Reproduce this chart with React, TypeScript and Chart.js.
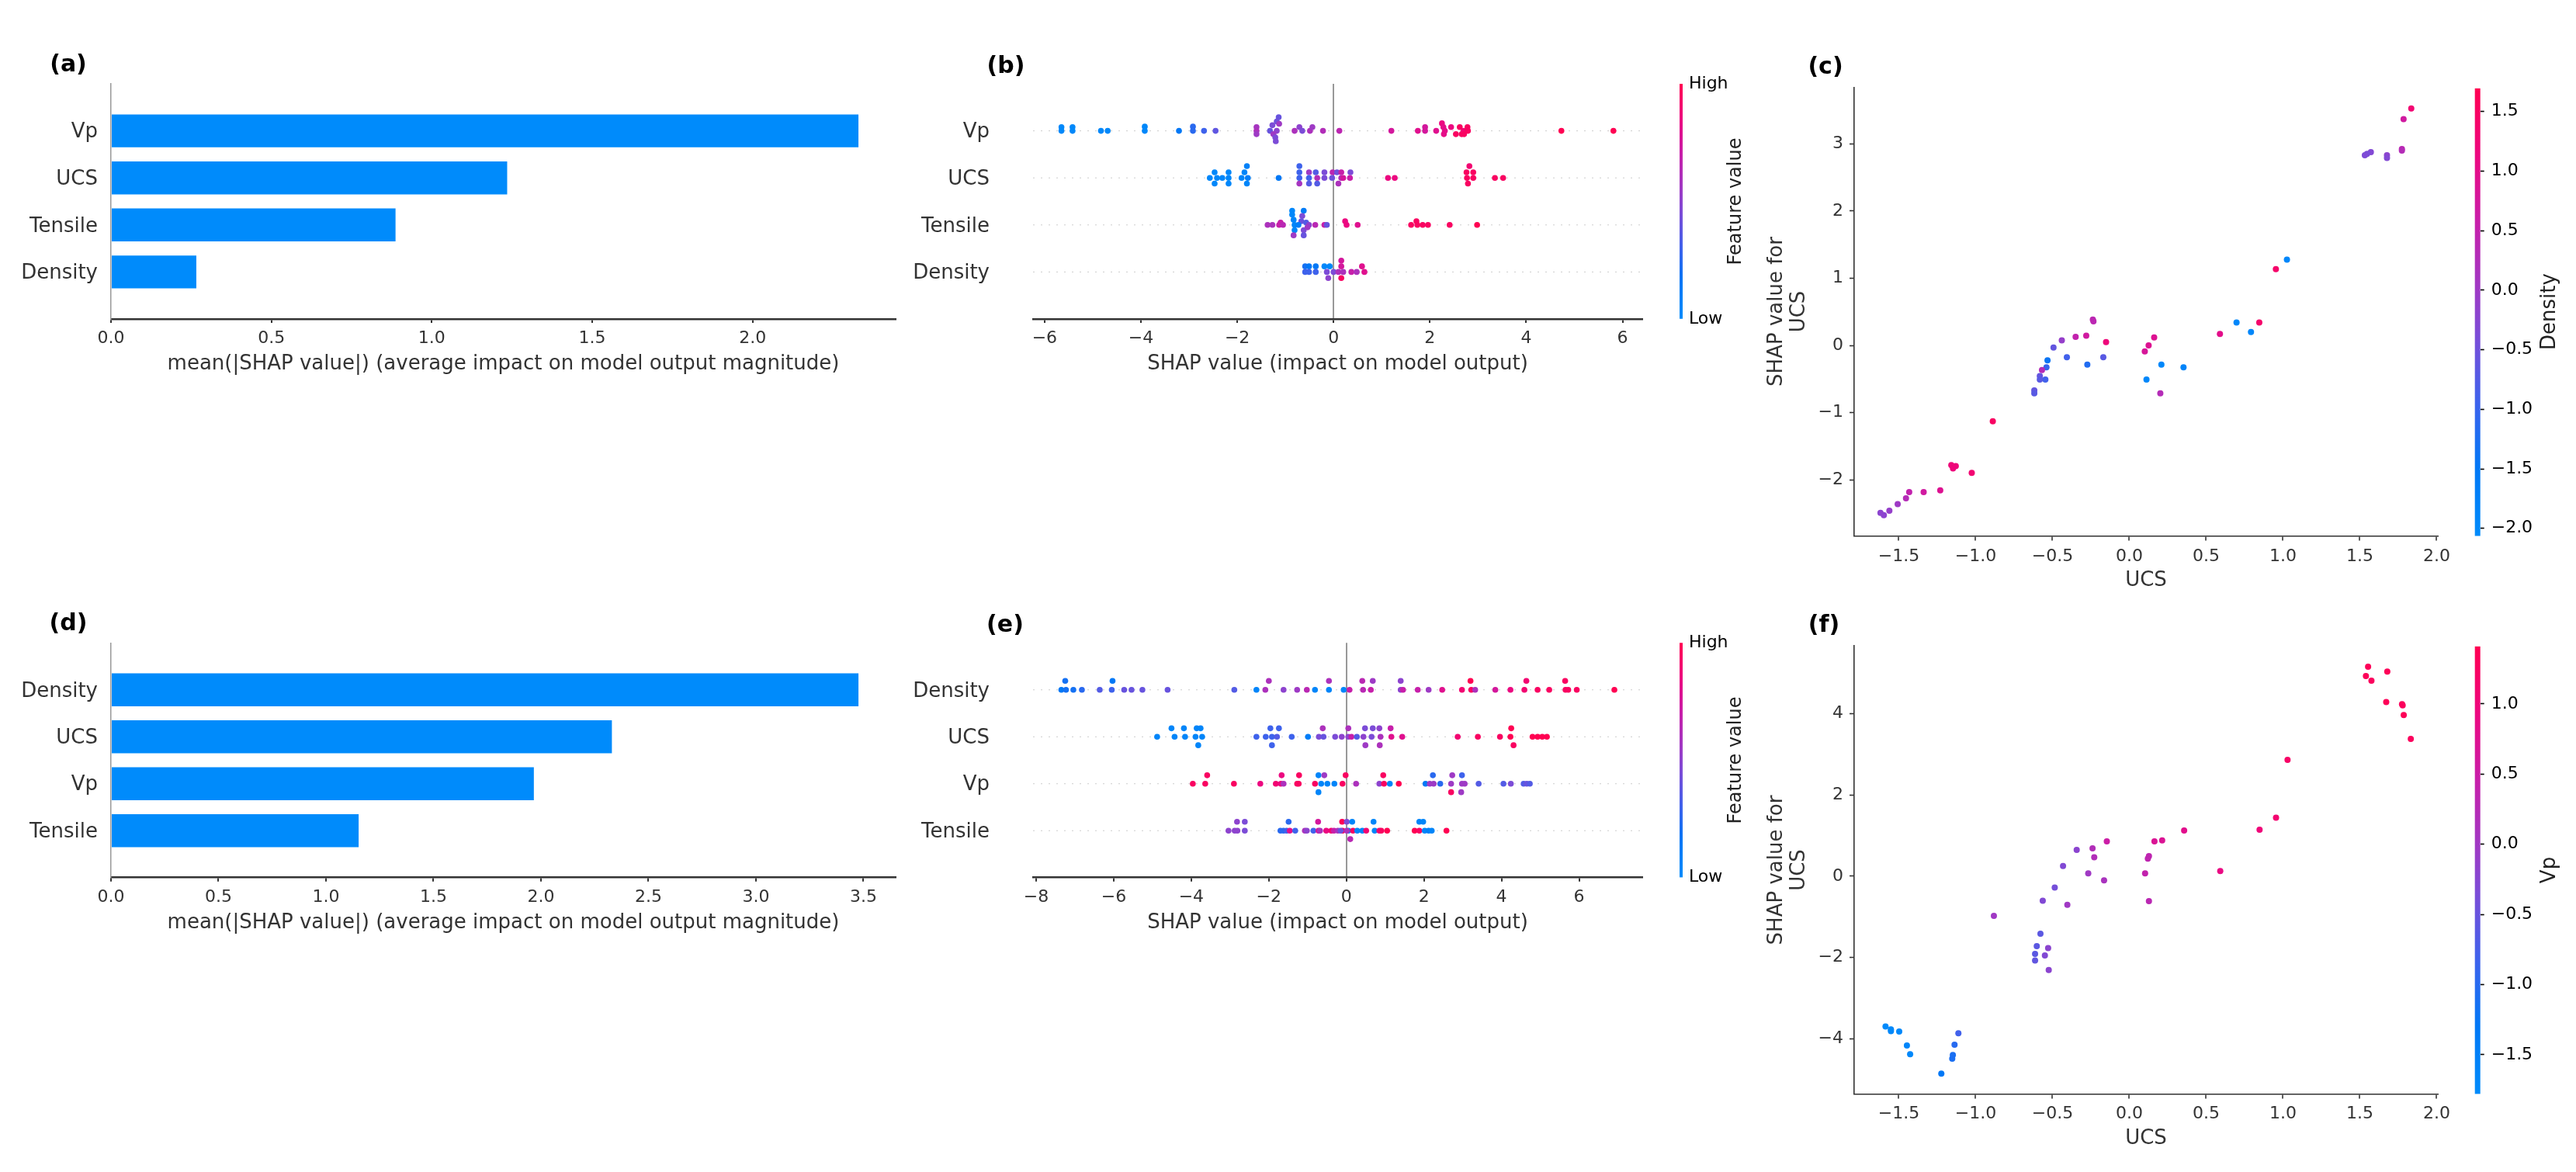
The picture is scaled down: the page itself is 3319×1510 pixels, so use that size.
import React, { useEffect, useRef } from "react";
import { Chart, registerables } from "chart.js";
Chart.register(...registerables);

const FF = "DejaVu Sans";
Chart.defaults.font.family = FF;

// ---------------- DATA ----------------
const FEATURES_A = ["Vp", "UCS", "Tensile", "Density"];
const MEAN_ABS_A = [2.33, 1.235, 0.887, 0.266];
const FEATURES_D = ["Density", "UCS", "Vp", "Tensile"];
const MEAN_ABS_D = [3.477, 2.33, 1.967, 1.152];
const BAR_A_XTICKS = [0, 0.5, 1, 1.5, 2];
const BAR_D_XTICKS = [0, 0.5, 1, 1.5, 2, 2.5, 3, 3.5];
const SWARM_B_XTICKS = [-6, -4, -2, 0, 2, 4, 6];
const SWARM_E_XTICKS = [-8, -6, -4, -2, 0, 2, 4, 6];
const ROW_TICKS = [0, 1, 2, 3];

// beeswarm points: [SHAP value, normalised feature value (0 low .. 1 high), vertical jitter]
const B_VP = [[-5.65,0.02,0.08],[-5.65,0.02,0],[-5.42,0.02,0.08],[-5.42,0.02,0],[-4.83,0.02,0],[-4.69,0.02,0],[-3.92,0.03,0.09],[-3.92,0.03,0],[-3.21,0.15,0],[-2.92,0.25,0.09],[-2.92,0.25,0],[-2.69,0.3,0],[-2.45,0.38,0],[-1.6,0.58,0.08],[-1.6,0.6,0],[-1.6,0.55,-0.07],[-1.14,0.4,0.29],[-1.18,0.42,0.2],[-1.13,0.55,0.15],[-1.27,0.45,0.12],[-1.32,0.4,0],[-1.18,0.5,0],[-1.25,0.55,-0.07],[-1.21,0.45,-0.14],[-1.2,0.45,-0.22],[-0.81,0.6,0],[-0.71,0.5,0.08],[-0.65,0.45,0],[-0.49,0.6,0],[-0.44,0.55,0.08],[-0.22,0.62,0],[0.12,0.66,0],[1.2,0.75,0],[1.75,0.8,0],[1.9,0.75,0.08],[1.9,0.75,0],[2.13,0.8,0],[2.25,0.85,0.16],[2.28,0.82,0.08],[2.31,0.82,0],[2.29,0.82,-0.07],[2.44,0.85,0.08],[2.54,0.95,-0.07],[2.62,0.95,0.08],[2.66,0.95,-0.07],[2.7,0.9,0],[2.78,0.95,0.08],[2.79,0.95,0],[2.71,0.95,-0.07],[4.73,1,0],[5.81,1,0]];
const B_UCS = [[-2.57,0.03,0],[-2.47,0.03,0.12],[-2.47,0.03,-0.12],[-2.42,0.03,0],[-2.31,0.03,0],[-2.18,0.03,0.12],[-2.18,0.03,0],[-2.18,0.03,-0.12],[-1.91,0.05,0],[-1.85,0.05,0.12],[-1.8,0.08,0.25],[-1.8,0.05,-0.12],[-1.78,0.1,0],[-1.14,0.15,0],[-0.71,0.3,0.25],[-0.71,0.3,0.12],[-0.71,0.3,0],[-0.71,0.58,-0.12],[-0.51,0.55,0.12],[-0.51,0.3,0],[-0.51,0.35,-0.12],[-0.37,0.35,0.12],[-0.34,0.62,0],[-0.34,0.35,-0.12],[-0.19,0.45,0.12],[-0.19,0.45,0],[-0.02,0.66,0.12],[-0.03,0.42,0],[0.07,0.42,0.12],[0.1,0.6,-0.12],[0.16,0.7,0.12],[0.16,0.62,0],[0.2,0.75,0],[0.35,0.45,0.12],[0.34,0.7,0],[1.13,0.85,0],[1.27,0.85,0],[2.82,0.9,0.25],[2.76,0.95,0.12],[2.9,0.95,0.12],[2.77,0.95,0],[2.9,0.95,0],[2.79,0.95,-0.12],[3.35,0.95,0],[3.52,0.95,0]];
const B_TENSILE = [[-1.37,0.6,0],[-1.27,0.6,0],[-1.1,0.7,0.05],[-1.13,0.7,0],[-1.05,0.65,0],[-0.86,0.03,0.3],[-0.86,0.03,0.22],[-0.83,0.05,0.11],[-0.81,0.05,0],[-0.81,0.05,-0.11],[-0.83,0.55,-0.22],[-0.62,0.12,0.3],[-0.65,0.45,0.19],[-0.67,0.4,0.08],[-0.57,0.35,0.05],[-0.73,0.1,0],[-0.51,0.5,0],[-0.62,0.45,-0.11],[-0.62,0.4,-0.22],[-0.54,0.55,-0.05],[-0.38,0.65,0],[-0.19,0.7,0],[-0.14,0.4,0],[0.24,0.85,0.08],[0.27,0.85,0],[0.5,0.8,0],[1.61,0.95,0],[1.72,0.95,0.08],[1.74,0.95,0],[1.85,0.95,0],[1.96,0.95,0],[2.41,0.95,0],[2.98,1,0]];
const B_DENSITY = [[-0.59,0.2,0.12],[-0.59,0.3,0],[-0.51,0.15,0.12],[-0.51,0.3,0],[-0.37,0.15,0.12],[-0.37,0.3,0],[-0.19,0.03,0.12],[-0.08,0.03,0.12],[-0.11,0.5,-0.13],[-0.14,0.45,0],[0.0,0.45,0],[0.16,0.75,0.24],[0.16,0.75,0.12],[0.16,0.95,-0.13],[0.1,0.6,0],[0.2,0.6,0],[0.37,0.7,0],[0.48,0.6,0],[0.59,0.8,0.12],[0.64,0.8,0]];

const E_DENSITY = [[-7.35,0.15,0],[-7.25,0.2,0.19],[-7.23,0.2,0],[-7.04,0.2,0],[-6.82,0.25,0],[-6.36,0.35,0],[-6.03,0.15,0.19],[-6.05,0.3,0],[-5.73,0.4,0],[-5.54,0.4,0],[-5.26,0.4,0],[-4.61,0.4,0],[-2.89,0.35,0],[-2.32,0.05,0],[-2.09,0.6,0],[-2.0,0.6,0.19],[-1.62,0.5,0],[-1.27,0.55,0],[-1.02,0.65,0],[-0.81,0.05,0],[-0.45,0.6,0.19],[-0.45,0.05,0],[-0.07,0.05,0],[0.08,0.7,0],[0.41,0.65,0.19],[0.43,0.65,0],[0.63,0.7,0],[0.68,0.55,0.19],[1.4,0.5,0.19],[1.4,0.5,0],[1.46,0.7,0],[1.84,0.7,0],[2.12,0.55,0],[2.47,0.8,0],[2.98,0.9,0],[3.2,1,0.19],[3.22,0.95,0],[3.32,0.6,0],[3.84,0.75,0],[4.23,0.85,0],[4.59,0.9,0],[4.64,0.9,0.19],[4.93,0.95,0],[5.23,0.95,0],[5.64,0.95,0.19],[5.65,0.95,0],[5.72,0.95,0],[5.94,0.95,0],[6.91,1,0]];
const E_UCS = [[-4.88,0.05,0],[-4.51,0.05,0.18],[-4.43,0.05,0],[-4.19,0.05,0.18],[-4.16,0.05,0],[-3.86,0.05,0.18],[-3.76,0.05,0.18],[-3.89,0.05,0],[-3.72,0.05,0],[-3.82,0.05,-0.18],[-2.32,0.3,0],[-2.08,0.3,0],[-1.96,0.3,0.18],[-1.92,0.3,0],[-1.92,0.3,-0.18],[-1.79,0.35,0],[-1.74,0.3,0.18],[-1.41,0.3,0],[-0.99,0.1,0],[-0.71,0.45,0],[-0.61,0.6,0.18],[-0.59,0.4,0],[-0.29,0.45,0],[-0.12,0.5,0],[0.05,0.6,0.18],[0.05,0.5,0],[0.13,0.7,0],[0.27,0.35,0],[0.44,0.5,0],[0.48,0.45,0.18],[0.49,0.55,-0.18],[0.65,0.45,0],[0.68,0.45,0.18],[0.85,0.5,0.18],[0.88,0.6,0],[0.86,0.6,-0.18],[1.14,0.7,0.18],[1.16,0.8,0],[1.44,0.8,0],[2.87,0.9,0],[3.39,0.95,0],[3.96,0.95,0],[4.23,1,0],[4.25,1,0.18],[4.31,0.95,-0.18],[4.8,1,0],[4.93,1,0],[5.05,1,0],[5.17,1,0]];
const E_VP = [[-3.96,0.95,0],[-3.64,0.95,0],[-3.59,0.95,0.18],[-2.9,0.95,0],[-2.22,0.85,0],[-1.82,0.9,0],[-1.67,0.85,0.18],[-1.69,0.85,0],[-1.62,0.6,0],[-1.27,0.95,0],[-1.22,0.95,0.18],[-1.23,0.95,0],[-0.81,0.95,0],[-0.72,0.05,0.18],[-0.57,0.55,0.18],[-0.72,0.05,-0.18],[-0.65,0.05,0],[-0.49,0.05,0],[-0.31,0.05,0],[-0.1,0.95,0],[-0.02,0.95,0.18],[0.25,0.6,0],[0.85,0.5,0],[0.95,0.95,0.18],[0.97,0.95,0],[1.12,0.05,0],[1.35,1,0],[2.04,0.15,0],[2.15,0.55,0],[2.25,0.55,0],[2.23,0.25,0.18],[2.42,0.25,0],[2.7,0.95,-0.18],[2.73,0.55,0.18],[2.7,0.55,0],[2.96,0.55,-0.18],[2.98,0.3,0.18],[2.98,0.55,0],[3.05,0.55,0],[3.41,0.35,0],[4.05,0.35,0],[4.24,0.45,0],[4.57,0.35,0],[4.65,0.4,0],[4.73,0.35,0]];
const E_TENSILE = [[-3.04,0.5,0],[-2.82,0.5,0.19],[-2.62,0.45,0.19],[-2.88,0.5,0],[-2.81,0.5,0],[-2.62,0.45,0],[-1.7,0.25,0],[-1.62,0.25,0],[-1.54,0.3,0],[-1.49,0.25,0.19],[-1.46,0.8,0],[-1.32,0.3,0],[-1.07,0.6,0],[-1.02,0.5,0],[-0.85,0.3,0],[-0.73,0.75,0.19],[-0.72,0.75,0],[-0.68,0.6,0],[-0.52,0.85,0],[-0.39,0.9,0],[-0.32,0.7,0],[-0.22,0.6,0],[-0.11,1,0.19],[-0.1,1,0],[0.01,0.45,0.19],[0.05,0.05,0],[0.1,0.65,-0.18],[0.15,0.05,0.19],[-0.15,0.4,0],[0.01,0.6,0],[0.17,0.95,0],[0.28,0.05,0],[0.41,0.05,0],[0.51,0.9,0],[0.7,0.05,0.19],[0.73,0.05,0],[0.85,0.9,0],[0.9,0.95,0],[1.05,1,0],[1.76,1,0],[1.88,0.95,0],[1.88,0.05,0.19],[1.98,0.05,0.19],[2.02,0.05,0],[2.12,0.1,0],[2.2,0.05,0],[2.58,1,0]];

// dependence plots: [UCS value, SHAP value for UCS, colouring feature value]
const DEP_C = [[1.835,3.526,1.3],[1.785,3.366,0.7],[1.774,2.923,0.4],[1.774,2.9,0.3],[1.677,2.83,-0.2],[1.677,2.789,-0.3],[1.572,2.876,-0.3],[1.547,2.85,-0.4],[1.533,2.83,-0.35],[1.026,1.278,-1.95],[0.954,1.134,1.4],[0.846,0.34,1.4],[0.792,0.201,-1.95],[0.698,0.34,-1.95],[0.59,0.17,1.0],[0.353,-0.325,-1.85],[0.209,-0.284,-1.95],[0.202,-0.712,0.3],[0.112,-0.506,-1.95],[0.162,0.118,0.9],[0.126,0.0,0.9],[0.101,-0.088,0.8],[-0.151,0.051,1.2],[-0.169,-0.176,-0.7],[-0.237,0.386,0.4],[-0.233,0.36,0.4],[-0.273,-0.284,-1.2],[-0.28,0.144,0.7],[-0.349,0.129,0.5],[-0.406,-0.176,-0.9],[-0.439,0.077,-0.1],[-0.493,-0.031,-0.6],[-0.532,-0.222,-1.4],[-0.539,-0.325,-1.0],[-0.546,-0.506,-0.9],[-0.568,-0.366,0.3],[-0.582,-0.454,-0.6],[-0.582,-0.506,-0.7],[-0.618,-0.67,-0.6],[-0.618,-0.712,-0.7],[-0.888,-1.129,1.5],[-1.025,-1.897,1.3],[-1.129,-1.794,1.2],[-1.158,-1.779,1.2],[-1.147,-1.83,1.2],[-1.23,-2.155,0.9],[-1.338,-2.181,0.7],[-1.432,-2.181,0.5],[-1.453,-2.274,0.3],[-1.507,-2.361,0.0],[-1.561,-2.459,-0.1],[-1.597,-2.526,-0.2],[-1.619,-2.49,-0.2]];
const DEP_F = [[1.554,5.158,1.35],[1.54,4.932,1.35],[1.576,4.815,1.3],[1.679,5.041,1.35],[1.672,4.292,1.35],[1.775,4.238,1.3],[1.779,4.211,1.3],[1.786,3.968,1.35],[1.832,3.381,1.3],[1.03,2.867,1.2],[0.955,1.443,1.1],[0.848,1.145,1.0],[0.592,0.126,0.9],[0.357,1.127,0.8],[0.214,0.884,0.7],[0.164,0.857,0.7],[0.128,0.496,0.35],[0.121,0.433,0.35],[0.103,0.072,0.4],[0.128,-0.613,0.3],[-0.146,0.857,0.5],[-0.164,-0.099,0.1],[-0.228,0.469,0.2],[-0.239,0.685,0.2],[-0.267,0.072,0.0],[-0.342,0.649,-0.2],[-0.403,-0.703,0.0],[-0.431,0.252,-0.3],[-0.485,-0.28,-0.4],[-0.563,-0.604,-0.3],[-0.578,-1.416,-0.6],[-0.602,-1.722,-0.6],[-0.613,-1.912,-0.6],[-0.613,-2.074,-0.55],[-0.549,-1.948,-0.3],[-0.528,-1.767,-0.2],[-0.524,-2.308,-0.2],[-0.881,-0.974,0.0],[-1.112,-3.868,-0.8],[-1.137,-4.148,-1.0],[-1.148,-4.4,-1.1],[-1.152,-4.49,-1.1],[-1.223,-4.86,-1.3],[-1.426,-4.382,-1.7],[-1.447,-4.166,-1.65],[-1.497,-3.823,-1.7],[-1.551,-3.814,-1.7],[-1.551,-3.769,-1.7],[-1.586,-3.697,-1.75]];
const DEP_XTICKS = [-1.5, -1, -0.5, 0, 0.5, 1, 1.5, 2];
const DEP_C_YTICKS = [-2, -1, 0, 1, 2, 3];
const DEP_F_YTICKS = [-4, -2, 0, 2, 4];
const CB_C_TICKS = [-2, -1.5, -1, -0.5, 0, 0.5, 1, 1.5];
const CB_F_TICKS = [-1.5, -1, -0.5, 0, 0.5, 1];
const CB_C_RANGE = [-2.064, 1.695];
const CB_F_RANGE = [-1.78, 1.41];

// ---------------- helpers ----------------
const RB: [number, number[]][] = [
  [0, [0, 139, 251]], [0.15, [0, 120, 246]], [0.3, [62, 98, 236]], [0.45, [124, 76, 215]],
  [0.55, [158, 58, 197]], [0.7, [199, 31, 170]], [0.85, [236, 8, 128]], [1, [255, 0, 82]],
];
function cmap(t: number) {
  t = Math.max(0, Math.min(1, t));
  for (let i = 1; i < RB.length; i++) {
    if (t <= RB[i][0]) {
      const [t0, c0] = RB[i - 1];
      const [t1, c1] = RB[i];
      const f = (t - t0) / (t1 - t0);
      const c = c0.map((v, k) => Math.round(v + (c1[k] - v) * f));
      return `rgb(${c[0]},${c[1]},${c[2]})`;
    }
  }
  return "rgb(255,0,82)";
}
const minus = (s: string) => s.replace("-", "\u2212");
const fmt1 = (v: any) => minus(Number(v).toFixed(1));
const fmt0 = (v: any) => minus(Number(v).toFixed(0));
const fixTicks = (vals: number[]) => (s: any) => { s.ticks = vals.map((v) => ({ value: v })); };

type Rect = { x: number; y: number; w: number; h: number };
type Area = { l: number; t: number; r: number; b: number };
type TextItem = { t: string; x: number; y: number; size: number; bold?: boolean; color?: string; rot?: boolean };

function textPlugin(items: TextItem[], rect: Rect) {
  return {
    id: "pageText",
    afterDraw(chart: any) {
      const ctx = chart.ctx;
      for (const it of items) {
        ctx.save();
        ctx.font = `${it.bold ? "bold " : ""}${it.size}px "${FF}"`;
        ctx.fillStyle = it.color || "#333333";
        ctx.textAlign = "center";
        ctx.textBaseline = "middle";
        ctx.translate(it.x - rect.x, it.y - rect.y);
        if (it.rot) ctx.rotate(-Math.PI / 2);
        ctx.fillText(it.t, 0, 0);
        ctx.restore();
      }
    },
  };
}

function padding(rect: Rect, area: Area, left: number, right: number, bottom: number) {
  return {
    left: area.l - rect.x - left,
    top: area.t - rect.y,
    right: rect.x + rect.w - area.r - right,
    bottom: rect.y + rect.h - area.b - bottom,
  };
}

function baseOptions(pad: any, scales: any) {
  return {
    responsive: false,
    animation: false,
    devicePixelRatio: 1,
    events: [],
    layout: { padding: pad },
    plugins: { legend: { display: false }, tooltip: { enabled: false }, title: { display: false } },
    scales,
  };
}

const TICK_FONT = { family: FF, size: 22 };
const LABEL_FONT = { family: FF, size: 26 };

function xBottom(min: number, max: number, ticks: number[], fmt: (v: any) => string, opts: any = {}) {
  return {
    type: "linear", position: "bottom", min, max, offset: false,
    afterBuildTicks: fixTicks(ticks),
    afterFit: (s: any) => { s.height = 60; },
    ticks: { callback: fmt, font: TICK_FONT, color: "#333333", padding: 7, maxRotation: 0, autoSkip: false },
    grid: {
      display: true, offset: false, drawOnChartArea: !!opts.zero,
      color: (c: any) => (opts.zero && c.tick && c.tick.value === 0 ? "#999999" : "rgba(0,0,0,0)"),
      lineWidth: 2, drawTicks: true, tickLength: opts.tickLength || 5, tickWidth: opts.tickWidth || 2, tickColor: "#333333",
    },
    border: { display: true, color: "#333333", width: opts.borderWidth || 2.5 },
  };
}

// ---------------- chart builders ----------------
function barChart(rect: Rect, area: Area, names: string[], vals: number[], xmax: number, xticks: number[], texts: TextItem[]) {
  const n = names.length;
  return {
    type: "bar",
    data: {
      datasets: [{
        data: vals.map((v, i) => ({ x: v, y: n - 1 - i })),
        backgroundColor: "#008bfb", borderWidth: 0, barPercentage: 0.7, categoryPercentage: 1,
      }],
    },
    options: {
      ...baseOptions(padding(rect, area, area.l - rect.x, 0, 60), {
        x: xBottom(0, xmax, xticks, fmt1),
        y: {
          type: "linear", min: -1, max: n, offset: false,
          afterBuildTicks: fixTicks(ROW_TICKS),
          afterFit: (s: any) => { s.width = area.l - rect.x; },
          ticks: { callback: (v: any) => names[n - 1 - v], font: LABEL_FONT, color: "#333333", padding: 17, labelOffset: 2, autoSkip: false },
          grid: { display: true, offset: false, drawOnChartArea: false, drawTicks: false },
          border: { display: true, color: "#999999", width: 1.5 },
        },
      }),
      indexAxis: "y",
    },
    plugins: [textPlugin(texts, rect)],
  };
}

function swarmChart(rect: Rect, area: Area, names: string[], rows: number[][][], xmin: number, xmax: number, xticks: number[], texts: TextItem[]) {
  const n = names.length;
  const datasets: any[] = [];
  rows.forEach((pts, i) => {
    const pos = n - 1 - i;
    datasets.push({
      type: "scatter",
      data: pts.map((p) => ({ x: p[0], y: pos + p[2] })),
      pointBackgroundColor: pts.map((p) => cmap(p[1])),
      pointRadius: 3.8, pointBorderWidth: 0, order: 0,
    });
    datasets.push({
      type: "line",
      data: [{ x: xmin, y: pos }, { x: xmax, y: pos }],
      borderColor: "#cccccc", borderWidth: 1, borderDash: [2, 8], pointRadius: 0, order: 1,
    });
  });
  const left = area.l - rect.x - 20;
  return {
    type: "scatter",
    data: { datasets },
    options: baseOptions(padding(rect, area, left, 0, 60), {
      x: xBottom(xmin, xmax, xticks, fmt0, { zero: true }),
      y: {
        type: "linear", min: -1, max: n, offset: false,
        afterBuildTicks: fixTicks(ROW_TICKS),
        afterFit: (s: any) => { s.width = left; },
        ticks: { callback: (v: any) => names[n - 1 - v], font: LABEL_FONT, color: "#333333", padding: 48, labelOffset: 2, autoSkip: false },
        grid: { display: false },
        border: { display: false },
      },
    }),
    plugins: [textPlugin(texts, rect)],
  };
}

function gradientFill(c: any) {
  const ca = c.chart.chartArea;
  if (!ca) return "#888888";
  const g = c.chart.ctx.createLinearGradient(0, ca.bottom, 0, ca.top);
  RB.forEach(([t, col]) => g.addColorStop(t, `rgb(${col[0]},${col[1]},${col[2]})`));
  return g;
}

function colorbarChart(rect: Rect, area: Area, min: number, max: number, ticks: number[], fmt: (v: any) => string, tickMarks: boolean, texts: TextItem[]) {
  const right = 75;
  return {
    type: "bar",
    data: {
      labels: [""],
      datasets: [{ data: [[min, max]], backgroundColor: gradientFill, borderWidth: 0, borderSkipped: false, barPercentage: 1, categoryPercentage: 1 }],
    },
    options: baseOptions(padding(rect, area, 0, right, 0), {
      x: { display: false },
      y: {
        type: "linear", position: "right", min, max,
        afterBuildTicks: fixTicks(ticks),
        afterFit: (s: any) => { s.width = right; },
        ticks: { callback: fmt, font: TICK_FONT, color: "#000000", padding: tickMarks ? 9 : 8, autoSkip: false },
        grid: { display: true, drawOnChartArea: false, drawTicks: tickMarks, tickLength: 5, tickWidth: 1.6, tickColor: "#000000" },
        border: { display: false },
      },
    }),
    plugins: [textPlugin(texts, rect)],
  };
}

function depChart(rect: Rect, area: Area, pts: number[][], range: number[], xmin: number, xmax: number, ymin: number, ymax: number, yticks: number[], texts: TextItem[]) {
  const left = 100;
  return {
    type: "scatter",
    data: {
      datasets: [{
        data: pts.map((p) => ({ x: p[0], y: p[1] })),
        pointBackgroundColor: pts.map((p) => cmap((p[2] - range[0]) / (range[1] - range[0]))),
        pointRadius: 4, pointBorderWidth: 0,
      }],
    },
    options: baseOptions(padding(rect, area, left, 0, 60), {
      x: xBottom(xmin, xmax, DEP_XTICKS, fmt1, { borderWidth: 1.6, tickWidth: 1.6, tickLength: 6 }),
      y: {
        type: "linear", min: ymin, max: ymax, offset: false,
        afterBuildTicks: fixTicks(yticks),
        afterFit: (s: any) => { s.width = left; },
        ticks: { callback: fmt0, font: TICK_FONT, color: "#333333", padding: 8, autoSkip: false },
        grid: { display: true, drawOnChartArea: false, drawTicks: true, tickLength: 6, tickWidth: 1.6, tickColor: "#333333" },
        border: { display: true, color: "#333333", width: 1.6 },
      },
    }),
    plugins: [textPlugin(texts, rect)],
  };
}

// ---------------- layout ----------------
const R_A: Rect = { x: 0, y: 0, w: 1250, h: 560 };
const AR_A: Area = { l: 143, t: 108, r: 1154, b: 411 };
const R_B: Rect = { x: 1150, y: 0, w: 1000, h: 560 };
const AR_B: Area = { l: 1331, t: 108, r: 2116, b: 411 };
const R_BCB: Rect = { x: 2140, y: 0, w: 180, h: 560 };
const AR_BCB: Area = { l: 2164, t: 108, r: 2168, b: 411 };
const R_C: Rect = { x: 2200, y: 0, w: 1119, h: 780 };
const AR_C: Area = { l: 2389, t: 112.5, r: 3141, b: 690.6 };
const R_CCB: Rect = { x: 3150, y: 0, w: 169, h: 780 };
const AR_CCB: Area = { l: 3188.6, t: 113.8, r: 3195.7, b: 690.6 };
const R_D: Rect = { x: 0, y: 720, w: 1250, h: 790 };
const AR_D: Area = { l: 143, t: 828.3, r: 1154, b: 1130.7 };
const R_E: Rect = { x: 1150, y: 720, w: 1000, h: 790 };
const AR_E: Area = { l: 1331, t: 828.3, r: 2116, b: 1130.7 };
const R_ECB: Rect = { x: 2140, y: 720, w: 180, h: 790 };
const AR_ECB: Area = { l: 2164, t: 828.3, r: 2168, b: 1130.7 };
const R_F: Rect = { x: 2200, y: 740, w: 1119, h: 770 };
const AR_F: Area = { l: 2389, t: 832.3, r: 3141, b: 1409.4 };
const R_FCB: Rect = { x: 3150, y: 740, w: 169, h: 770 };
const AR_FCB: Area = { l: 3188.6, t: 832.8, r: 3195.7, b: 1409.4 };

const BAR_XLABEL = "mean(|SHAP value|) (average impact on model output magnitude)";
const SWARM_XLABEL = "SHAP value (impact on model output)";

const CHARTS: { rect: Rect; build: () => any }[] = [
  { rect: R_A, build: () => barChart(R_A, AR_A, FEATURES_A, MEAN_ABS_A, 2.446, BAR_A_XTICKS, [
    { t: "(a)", x: 88, y: 84, size: 30, bold: true, color: "#000000" },
    { t: BAR_XLABEL, x: 648.5, y: 469, size: 26 },
  ]) },
  { rect: R_B, build: () => swarmChart(R_B, AR_B, FEATURES_A, [B_VP, B_UCS, B_TENSILE, B_DENSITY], -6.24, 6.41, SWARM_B_XTICKS, [
    { t: "(b)", x: 1296, y: 86, size: 30, bold: true, color: "#000000" },
    { t: SWARM_XLABEL, x: 1723.5, y: 469, size: 26 },
  ]) },
  { rect: R_BCB, build: () => colorbarChart(R_BCB, AR_BCB, 0, 1, [0, 1], (v: any) => (Number(v) >= 1 ? "High" : "Low"), false, [
    { t: "Feature value", x: 2237, y: 259.5, size: 24, color: "#222222", rot: true },
  ]) },
  { rect: R_C, build: () => depChart(R_C, AR_C, DEP_C, CB_C_RANGE, -1.79, 2.008, -2.835, 3.84, DEP_C_YTICKS, [
    { t: "(c)", x: 2352, y: 87, size: 30, bold: true, color: "#000000" },
    { t: "UCS", x: 2765, y: 748, size: 26 },
    { t: "SHAP value for", x: 2289, y: 401.5, size: 26, rot: true },
    { t: "UCS", x: 2318, y: 401.5, size: 26, rot: true },
  ]) },
  { rect: R_CCB, build: () => colorbarChart(R_CCB, AR_CCB, CB_C_RANGE[0], CB_C_RANGE[1], CB_C_TICKS, fmt1, true, [
    { t: "Density", x: 3285, y: 401.5, size: 26, color: "#222222", rot: true },
  ]) },
  { rect: R_D, build: () => barChart(R_D, AR_D, FEATURES_D, MEAN_ABS_D, 3.65, BAR_D_XTICKS, [
    { t: "(d)", x: 88, y: 804, size: 30, bold: true, color: "#000000" },
    { t: BAR_XLABEL, x: 648.5, y: 1189, size: 26 },
  ]) },
  { rect: R_E, build: () => swarmChart(R_E, AR_E, FEATURES_D, [E_DENSITY, E_UCS, E_VP, E_TENSILE], -8.08, 7.63, SWARM_E_XTICKS, [
    { t: "(e)", x: 1295, y: 806, size: 30, bold: true, color: "#000000" },
    { t: SWARM_XLABEL, x: 1723.5, y: 1189, size: 26 },
  ]) },
  { rect: R_ECB, build: () => colorbarChart(R_ECB, AR_ECB, 0, 1, [0, 1], (v: any) => (Number(v) >= 1 ? "High" : "Low"), false, [
    { t: "Feature value", x: 2237, y: 979.5, size: 24, color: "#222222", rot: true },
  ]) },
  { rect: R_F, build: () => depChart(R_F, AR_F, DEP_F, CB_F_RANGE, -1.79, 2.008, -5.36, 5.67, DEP_F_YTICKS, [
    { t: "(f)", x: 2350, y: 806, size: 30, bold: true, color: "#000000" },
    { t: "UCS", x: 2765, y: 1467, size: 26 },
    { t: "SHAP value for", x: 2289, y: 1121, size: 26, rot: true },
    { t: "UCS", x: 2318, y: 1121, size: 26, rot: true },
  ]) },
  { rect: R_FCB, build: () => colorbarChart(R_FCB, AR_FCB, CB_F_RANGE[0], CB_F_RANGE[1], CB_F_TICKS, fmt1, true, [
    { t: "Vp", x: 3285, y: 1121, size: 26, color: "#222222", rot: true },
  ]) },
];

function ChartBox({ rect, build }: { rect: Rect; build: () => any }) {
  const ref = useRef<HTMLCanvasElement>(null);
  useEffect(() => {
    const chart = new Chart(ref.current as HTMLCanvasElement, build());
    return () => chart.destroy();
  }, []);
  return (
    <canvas
      ref={ref}
      width={rect.w}
      height={rect.h}
      style={{ position: "absolute", left: rect.x, top: rect.y, width: rect.w, height: rect.h }}
    />
  );
}

export default function App() {
  return (
    <div style={{ position: "absolute", left: 0, top: 0, width: 3319, height: 1510, background: "#ffffff", overflow: "hidden" }}>
      {CHARTS.map((c, i) => (
        <ChartBox key={i} rect={c.rect} build={c.build} />
      ))}
    </div>
  );
}
